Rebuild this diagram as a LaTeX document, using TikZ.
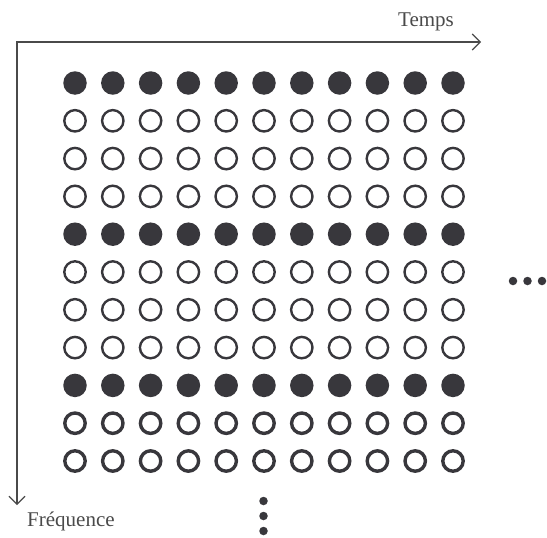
\documentclass[tikz,border=0pt]{standalone}
\usepackage{fontspec}
\setmainfont{Liberation Serif}
\usetikzlibrary{arrows.meta}
\definecolor{dotc}{HTML}{38373C}
\definecolor{axisc}{HTML}{4A4A4A}
\begin{document}
\begin{tikzpicture}[x=1pt,y=-1pt,
  full/.style={circle,fill=dotc,inner sep=0pt,minimum size=23.5pt},
  ring/.style={circle,draw=dotc,line width=2.4pt,inner sep=0pt,minimum size=21.4pt},
  thickring/.style={ring,line width=3.4pt,minimum size=20.4pt},
  smalldot/.style={circle,fill=dotc,inner sep=0pt,minimum size=8.5pt},
  axis/.style={draw=axisc,line width=1.1pt,{Straight Barb[length=8pt,width=16pt]}-{Straight Barb[length=8pt,width=16pt]}},
  lbl/.style={font=\fontsize{21}{24}\selectfont,text=axisc,inner sep=0pt}]
\useasboundingbox (0,0) rectangle (547,538);
% axes
\coordinate (o) at (17,42);
\coordinate (te) at (481,42);
\coordinate (fe) at (17,505);
\draw[axis] (fe) -- (o) -- (te);
\node[lbl,anchor=base west] (temps) at (398,27) {Temps};
\node[lbl,anchor=base west] (freq) at (27,526) {Fréquence};
% grid
\foreach \r in {0,4,8}
  \foreach \c in {0,...,10}
    \node[full] (d-\r-\c) at ({75+37.8*\c},{83+37.8*\r}) {};
\foreach \r in {1,2,3,5,6,7}
  \foreach \c in {0,...,10}
    \node[ring] (d-\r-\c) at ({75+37.8*\c},{83+37.8*\r}) {};
\foreach \r in {9,10}
  \foreach \c in {0,...,10}
    \node[thickring] (d-\r-\c) at ({75+37.8*\c},{83+37.8*\r}) {};
% ellipses
\foreach \i in {0,1,2}
  \node[smalldot] (h-\i) at ({513+14.5*\i},281) {};
\foreach \i in {0,1,2}
  \node[smalldot] (v-\i) at (263.5,{501+15*\i}) {};
\end{tikzpicture}
\end{document}
